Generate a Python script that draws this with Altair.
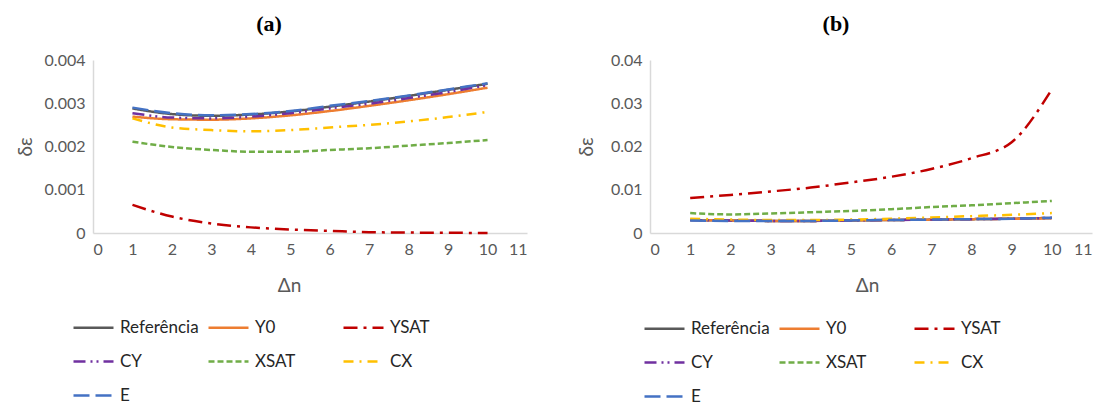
import altair as alt
import pandas as pd

# Δn steps shared by both panels
dn = [1, 2, 3, 4, 5, 6, 7, 8, 9, 10]

series_names = ["Referência", "Y0", "YSAT", "CY", "XSAT", "CX", "E"]
series_colors = ["#595959", "#ED7D31", "#C00000", "#7030A0", "#70AD47", "#FFC000", "#4472C4"]
series_dashes = [[1, 0], [1, 0], [14, 6, 3, 6], [12, 5, 2, 4, 2, 5], [6, 3], [10, 6, 2, 6], [16, 6]]

# Panel (a) values of δε
a_ref = [0.00288, 0.00275, 0.00271, 0.00274, 0.00281, 0.00292, 0.00304, 0.00317, 0.00331, 0.00345]
a_y0 = [0.00269, 0.00263, 0.00262, 0.00265, 0.00272, 0.00282, 0.00294, 0.00307, 0.00321, 0.00336]
a_ysat = [0.00065, 0.00038, 0.00022, 0.00013, 0.00008, 0.00005, 0.00002, 0.00001, 0.000005, 0.0]
a_cy = [0.00277, 0.00267, 0.00265, 0.00269, 0.00277, 0.00288, 0.00299, 0.00312, 0.00326, 0.00342]
a_xsat = [0.00211, 0.00199, 0.00192, 0.00188, 0.00188, 0.00192, 0.00196, 0.00202, 0.00208, 0.00215]
a_cx = [0.00265, 0.00244, 0.00238, 0.00235, 0.00238, 0.00244, 0.0025, 0.00258, 0.00268, 0.0028]
a_e = [0.0029, 0.00277, 0.00272, 0.00275, 0.00282, 0.00294, 0.00305, 0.00318, 0.00332, 0.00346]

# Panel (b) values of δε
b_ref = [0.0030, 0.0029, 0.0028, 0.0028, 0.0029, 0.0030, 0.0031, 0.0032, 0.0033, 0.0035]
b_y0 = [0.0030, 0.0029, 0.0028, 0.0028, 0.0029, 0.0030, 0.0031, 0.0032, 0.0033, 0.0034]
b_ysat = [0.0081, 0.0088, 0.0096, 0.0105, 0.0117, 0.0130, 0.0148, 0.0173, 0.0210, 0.0332]
b_cy = [0.0030, 0.0029, 0.0028, 0.0028, 0.0029, 0.0030, 0.0031, 0.0032, 0.0033, 0.0035]
b_xsat = [0.0046, 0.0043, 0.0045, 0.0048, 0.0051, 0.0055, 0.0060, 0.0064, 0.0069, 0.0074]
b_cx = [0.0033, 0.0031, 0.0030, 0.0030, 0.0031, 0.0033, 0.0036, 0.0039, 0.0042, 0.0046]
b_e = [0.0029, 0.0028, 0.0028, 0.0028, 0.0029, 0.0030, 0.0031, 0.0032, 0.0033, 0.0035]

x_ticks = list(range(0, 12))
a_ticks = [0, 0.001, 0.002, 0.003, 0.004]
b_ticks = [0, 0.01, 0.02, 0.03, 0.04]

FONT = "Lato"
AXIS_GREY = "#D9D9D9"
TEXT_GREY = "#595959"


def long_table(columns):
    rows = []
    for name, vals in zip(series_names, columns):
        for x, v in zip(dn, vals):
            rows.append({"dn": x, "value": v, "series": name})
    return pd.DataFrame(rows)


def panel(columns, ticks, fmt, title, title_dx, width, ytitle_x, xtitle_x, legend_x, legend_y):
    df = long_table(columns)
    return (
        alt.Chart(df, title=alt.TitleParams(
            title, font="Liberation Serif", fontSize=22, fontWeight="bold",
            color="black", dx=title_dx, offset=16))
        .mark_line(strokeWidth=2.5, interpolate="monotone")
        .encode(
            x=alt.X("dn:Q", scale=alt.Scale(domain=[0, 11], nice=False),
                    axis=alt.Axis(values=x_ticks, title="Δn", titleX=xtitle_x,
                                  titleY=43, format="d")),
            y=alt.Y("value:Q", scale=alt.Scale(domain=[ticks[0], ticks[-1]], nice=False),
                    axis=alt.Axis(values=ticks, title="δε", format=fmt,
                                  titleX=ytitle_x, titleBaseline="middle")),
            color=alt.Color("series:N", sort=series_names,
                            scale=alt.Scale(domain=series_names, range=series_colors),
                            legend=alt.Legend(
                                title=None, orient="none", legendX=legend_x, legendY=legend_y,
                                direction="horizontal",
                                columns=3, gridAlign="all", symbolType="stroke",
                                symbolSize=1600, symbolStrokeWidth=2.5,
                                labelFont=FONT, labelFontSize=17, labelColor="#262626",
                                labelOffset=5, rowPadding=4, columnPadding=4,
                                labelLimit=200)),
            strokeDash=alt.StrokeDash("series:N", sort=series_names,
                                      scale=alt.Scale(domain=series_names, range=series_dashes),
                                      legend=None),
            detail="series:N",
        )
        .properties(width=width, height=173)
    )


chart_a = panel([a_ref, a_y0, a_ysat, a_cy, a_xsat, a_cx, a_e], a_ticks, ".3~f",
                "(a)", -41, 434, -68, 196, -21, 246)
chart_b = panel([b_ref, b_y0, b_ysat, b_cy, b_xsat, b_cx, b_e], b_ticks, ".2~f",
                "(b)", -35, 442, -64, 217, -7, 247)

chart = (
    alt.hconcat(chart_a, chart_b, spacing=50)
    .resolve_scale(color="independent", strokeDash="independent")
    .configure_view(stroke=None)
    .configure_axis(
        grid=False, ticks=False, domainColor=AXIS_GREY, domainWidth=1.5,
        labelFont=FONT, labelFontSize=16, labelColor=TEXT_GREY, labelPadding=8,
        titleFont=FONT, titleFontSize=19, titleFontWeight="normal", titleColor=TEXT_GREY,
    )
    .properties(padding={"left": 16, "top": 13, "right": 5, "bottom": 0})
)

chart.save("out.html", embed_options={"renderer": "svg", "actions": False})
